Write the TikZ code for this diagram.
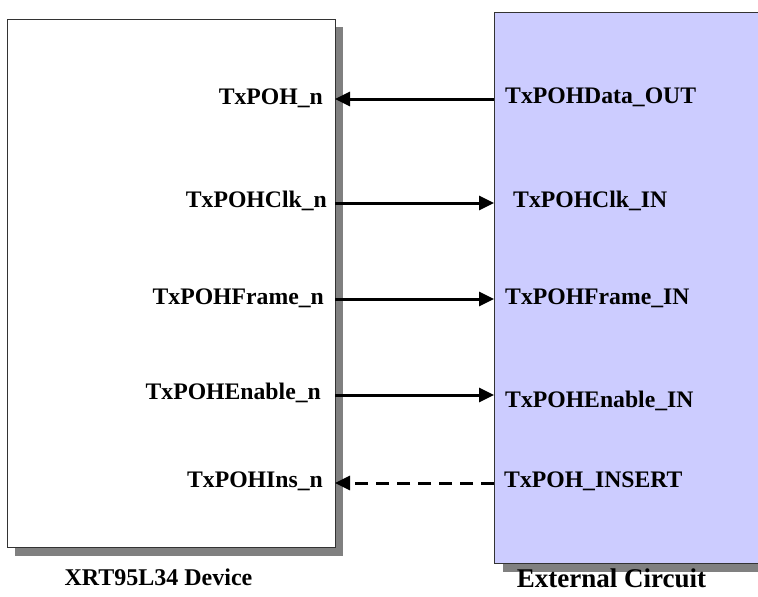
\documentclass[tikz,border=0pt]{standalone}
\usepackage{fontspec}
\setmainfont{Liberation Serif}
\usetikzlibrary{arrows.meta}
\definecolor{shadowgray}{HTML}{808080}
\definecolor{boxline}{HTML}{333333}
\definecolor{lavender}{HTML}{CCCCFF}
\begin{document}
\begin{tikzpicture}[x=1pt,y=-1pt,
  sig/.style={line width=3pt,-{Triangle[length=15pt,width=14pt]}},
  dsig/.style={sig,dash pattern=on 13pt off 8pt},
  lab/.style={font=\bfseries\fontsize{23.7}{28}\selectfont,inner sep=0pt},
  boxshape/.style={draw=boxline,line width=1.3pt,inner sep=0pt,anchor=north west}]
\useasboundingbox (0,0) rectangle (758,597);
\clip (0,0) rectangle (758,597);
% device box with shadow
\fill[shadowgray] (15,27) rectangle (343,556);
\node[boxshape,fill=white,minimum width=328pt,minimum height=528pt] (dev) at (7,19) {};
% external circuit box with shadow
\fill[shadowgray] (503,21) rectangle (800,572);
\node[boxshape,fill=lavender,minimum width=300pt,minimum height=551pt] (ext) at (494,12) {};
% edge coordinates
\coordinate (d1) at (335,99);  \coordinate (e1) at (494,99);
\coordinate (d2) at (335,203); \coordinate (e2) at (494,203);
\coordinate (d3) at (335,299); \coordinate (e3) at (494,299);
\coordinate (d4) at (335,395); \coordinate (e4) at (494,395);
\coordinate (d5) at (335,483); \coordinate (e5) at (494,483);
% connectors
\draw[sig] (e1) -- (d1);
\draw[sig] (d2) -- (e2);
\draw[sig] (d3) -- (e3);
\draw[sig] (d4) -- (e4);
\draw[dsig] (e5) -- (d5);
% left labels
\node[lab,anchor=base east] (l1) at (323,104) {TxPOH\_n};
\node[lab,anchor=base east] (l2) at (327,207) {TxPOHClk\_n};
\node[lab,anchor=base east] (l3) at (324,304) {TxPOHFrame\_n};
\node[lab,anchor=base east] (l4) at (321,399) {TxPOHEnable\_n};
\node[lab,anchor=base east] (l5) at (323,487) {TxPOHIns\_n};
% right labels
\node[lab,anchor=base west] (r1) at (505,103) {TxPOHData\_OUT};
\node[lab,anchor=base west] (r2) at (513,207) {TxPOHClk\_IN};
\node[lab,anchor=base west] (r3) at (505,304) {TxPOHFrame\_IN};
\node[lab,anchor=base west] (r4) at (505,407) {TxPOHEnable\_IN};
\node[lab,anchor=base west] (r5) at (504,487) {TxPOH\_INSERT};
% titles
\node[inner sep=0pt,font=\bfseries\fontsize{24}{28}\selectfont,anchor=base] (t1) at (158.5,585) {XRT95L34 Device};
\node[inner sep=0pt,font=\bfseries\fontsize{27}{31}\selectfont,anchor=base] (t2) at (611.5,587) {External Circuit};
\end{tikzpicture}
\end{document}
